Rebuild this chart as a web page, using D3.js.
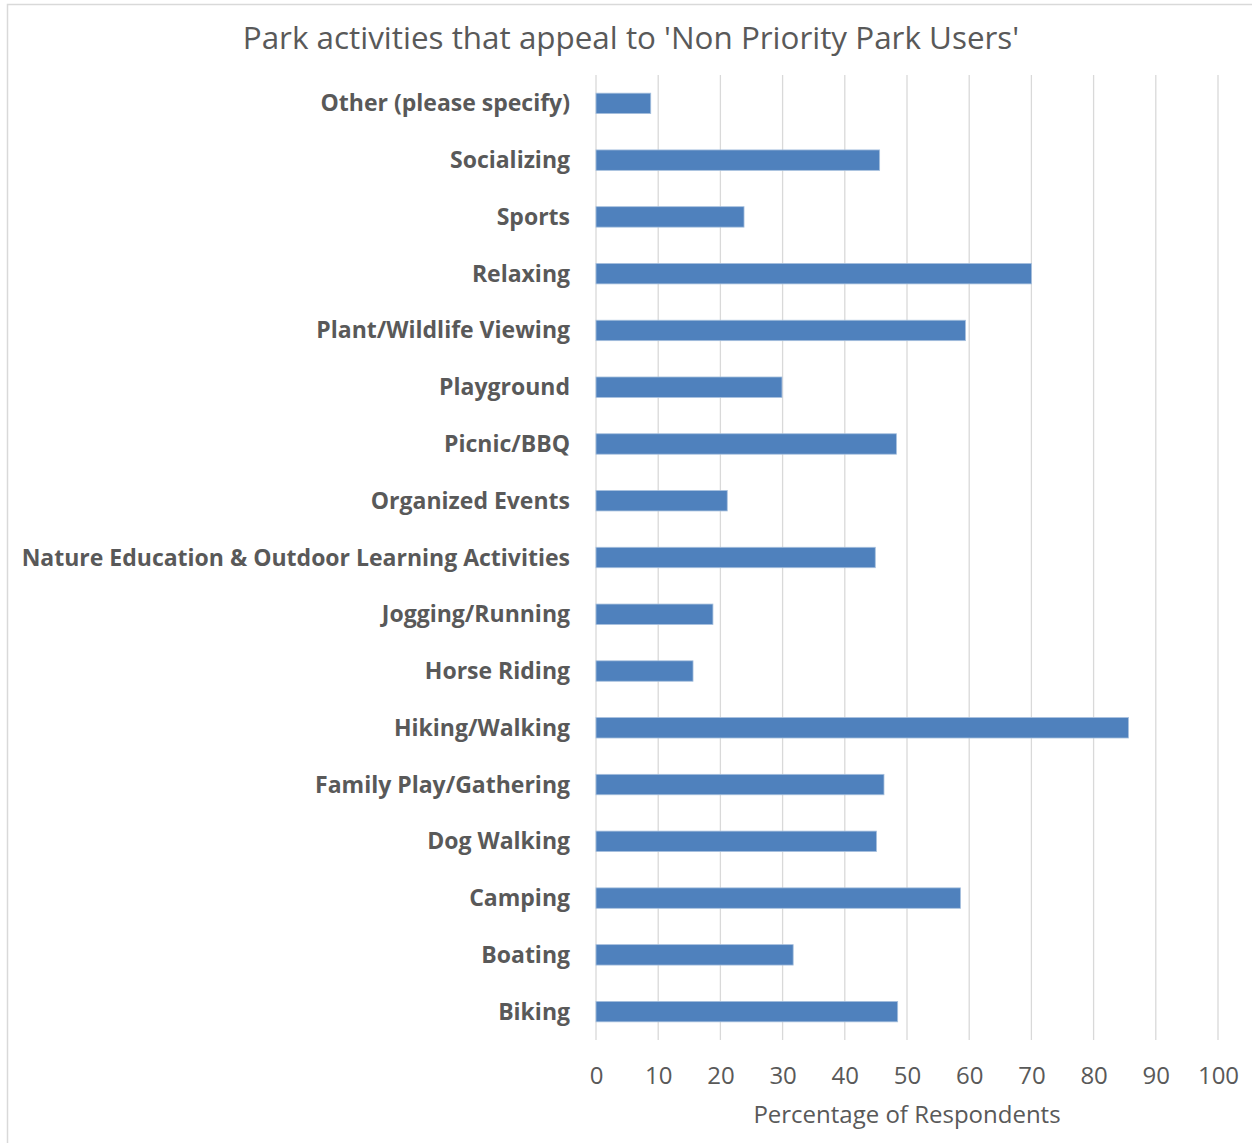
<!DOCTYPE html>
<html lang="en">
<head>
<meta charset="utf-8">
<title>Park activities</title>
<script src="https://cdn.jsdelivr.net/npm/d3@7"></script>
<style>
body { margin:0; background:#fff; }
.cat { font-family:"Open Sans", sans-serif; font-weight:700; font-size:23px; fill:#595959; }
.tick text { font-family:"Open Sans", sans-serif; font-size:24px; fill:#595959; }
.title { font-family:"Open Sans", sans-serif; font-size:31.4px; fill:#595959; }
.axtitle { font-family:"Open Sans", sans-serif; font-size:24px; fill:#595959; }
</style>
</head>
<body>
<div id="chart"></div>
<script>
// categories top to bottom
var categories = ["Other (please specify)", "Socializing", "Sports", "Relaxing",
  "Plant/Wildlife Viewing", "Playground", "Picnic/BBQ", "Organized Events",
  "Nature Education & Outdoor Learning Activities", "Jogging/Running", "Horse Riding",
  "Hiking/Walking", "Family Play/Gathering", "Dog Walking", "Camping", "Boating", "Biking"];
var values = [8.8, 45.6, 23.8, 70.0, 59.4, 29.9, 48.3, 21.1, 44.9, 18.8, 15.6, 85.6, 46.3, 45.1, 58.6, 31.7, 48.5];
var xTicks = [0, 10, 20, 30, 40, 50, 60, 70, 80, 90, 100];
var titleText = "Park activities that appeal to 'Non Priority Park Users'";
var xTitle = "Percentage of Respondents";

var W = 1252, H = 1143;
var svg = d3.select("#chart").append("svg").attr("width", W).attr("height", H);

// chart frame
svg.append("rect").attr("x", 7.5).attr("y", 4.5).attr("width", W).attr("height", H)
  .attr("fill", "none").attr("stroke", "#d9d9d9").attr("stroke-width", 1.5);

var x = d3.scaleLinear().domain([0, 100]).range([596, 1218]);
var y = d3.scaleBand().domain(categories).range([75, 1040]).paddingInner(0.64).paddingOuter(0.32);

// grid
svg.append("g").selectAll("line").data(xTicks).enter().append("line")
  .attr("x1", function(d){ return x(d); }).attr("x2", function(d){ return x(d); })
  .attr("y1", 75).attr("y2", 1040)
  .attr("stroke", "#d9d9d9").attr("stroke-width", 1.3);

// bars
svg.append("g").selectAll("rect").data(values).enter().append("rect")
  .attr("x", x(0))
  .attr("y", function(d, i){ return y(categories[i]); })
  .attr("width", function(d){ return x(d) - x(0); })
  .attr("height", y.bandwidth())
  .attr("fill", "#4f81bd").attr("stroke", "#a7c0de").attr("stroke-width", 0.8);

// category labels
svg.append("g").selectAll("text").data(categories).enter().append("text")
  .attr("class", "cat")
  .attr("x", 570)
  .attr("y", function(d){ return y(d) + y.bandwidth() / 2; })
  .attr("dy", "0.35em").attr("text-anchor", "end")
  .text(function(d){ return d; });

// x axis
var xAxis = d3.axisBottom(x).tickValues(xTicks).tickSize(0).tickPadding(27);
svg.append("g").attr("transform", "translate(0,1040)").call(xAxis)
  .call(function(g){ g.select(".domain").remove(); });

svg.append("text").attr("class", "axtitle").attr("x", x(50)).attr("y", 1123)
  .attr("text-anchor", "middle").text(xTitle);

svg.append("text").attr("class", "title").attr("x", 631).attr("y", 49)
  .attr("text-anchor", "middle").text(titleText);
</script>
</body>
</html>
